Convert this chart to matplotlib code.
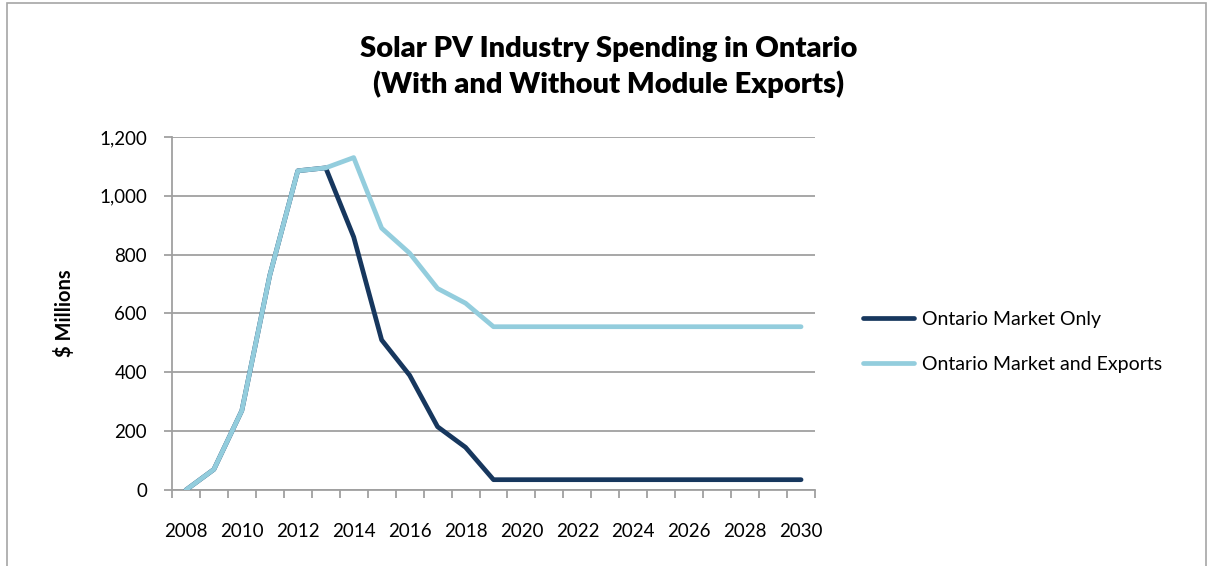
import numpy as np
import matplotlib.pyplot as plt
from matplotlib.patches import Rectangle

plt.rcParams['font.family'] = ['Lato', 'DejaVu Sans']

# yearly values, $ millions
years = list(range(2008, 2031))
market_only = [0, 70, 270, 730, 1085, 1095, 860, 510, 390, 215, 145,
               35, 35, 35, 35, 35, 35, 35, 35, 35, 35, 35, 35]
market_exports = [0, 70, 270, 730, 1085, 1095, 1130, 890, 805, 685, 635,
                  555, 555, 555, 555, 555, 555, 555, 555, 555, 555, 555, 555]
yticks = [0, 200, 400, 600, 800, 1000, 1200]

fig = plt.figure(figsize=(12.1, 5.66), dpi=100)
ax = fig.add_axes([0.1421, 0.1343, 0.5315, 0.6237])

# chart frame like the spreadsheet border
fig.patches.append(Rectangle((0.006, -0.01), 0.991, 1.005, transform=fig.transFigure,
                             fill=False, edgecolor='#a6a6a6', linewidth=1.2))

x = np.arange(len(years))
ax.plot(x, market_only, color='#17375e', linewidth=3.4, solid_capstyle='round',
        label='Ontario Market Only', zorder=3)
ax.plot(x, market_exports, color='#93cddd', linewidth=3.4, solid_capstyle='round',
        label='Ontario Market and Exports', zorder=4)

ax.set_xlim(-0.5, len(years) - 0.5)
ax.set_ylim(0, 1200)
ax.set_yticks(yticks)
ax.set_yticklabels([f'{v:,}' for v in yticks], fontsize=13.5)
ax.yaxis.grid(True, color='#a0a0a0', linewidth=1.3)
ax.set_axisbelow(True)

ax.set_xticks(x[::2])
ax.set_xticklabels([str(y) for y in years[::2]], fontsize=13.5)
ax.set_xticks(np.arange(-0.5, len(years)), minor=True)
ax.tick_params(axis='x', which='major', length=0, pad=24)
ax.tick_params(axis='x', which='minor', length=6, color='#a0a0a0', width=1.3)
ax.tick_params(axis='y', length=6, color='#a0a0a0', width=1.3, pad=12)

for side in ['top', 'right']:
    ax.spines[side].set_visible(False)
for side in ['left', 'bottom']:
    ax.spines[side].set_color('#a0a0a0')
    ax.spines[side].set_linewidth(1.3)

ax.set_ylabel('$ Millions', fontsize=14.5, fontweight='bold', labelpad=17)
fig.text(0.503, 0.881, 'Solar PV Industry Spending in Ontario\n(With and Without Module Exports)',
         ha='center', va='center', fontsize=21, fontweight='heavy', linespacing=1.36)

fig.legend(loc='center left', bbox_to_anchor=(0.699, 0.396), frameon=False, fontsize=14,
           handlelength=2.6, labelspacing=1.45, handletextpad=0.4)

fig.savefig('out.png', dpi=100)
